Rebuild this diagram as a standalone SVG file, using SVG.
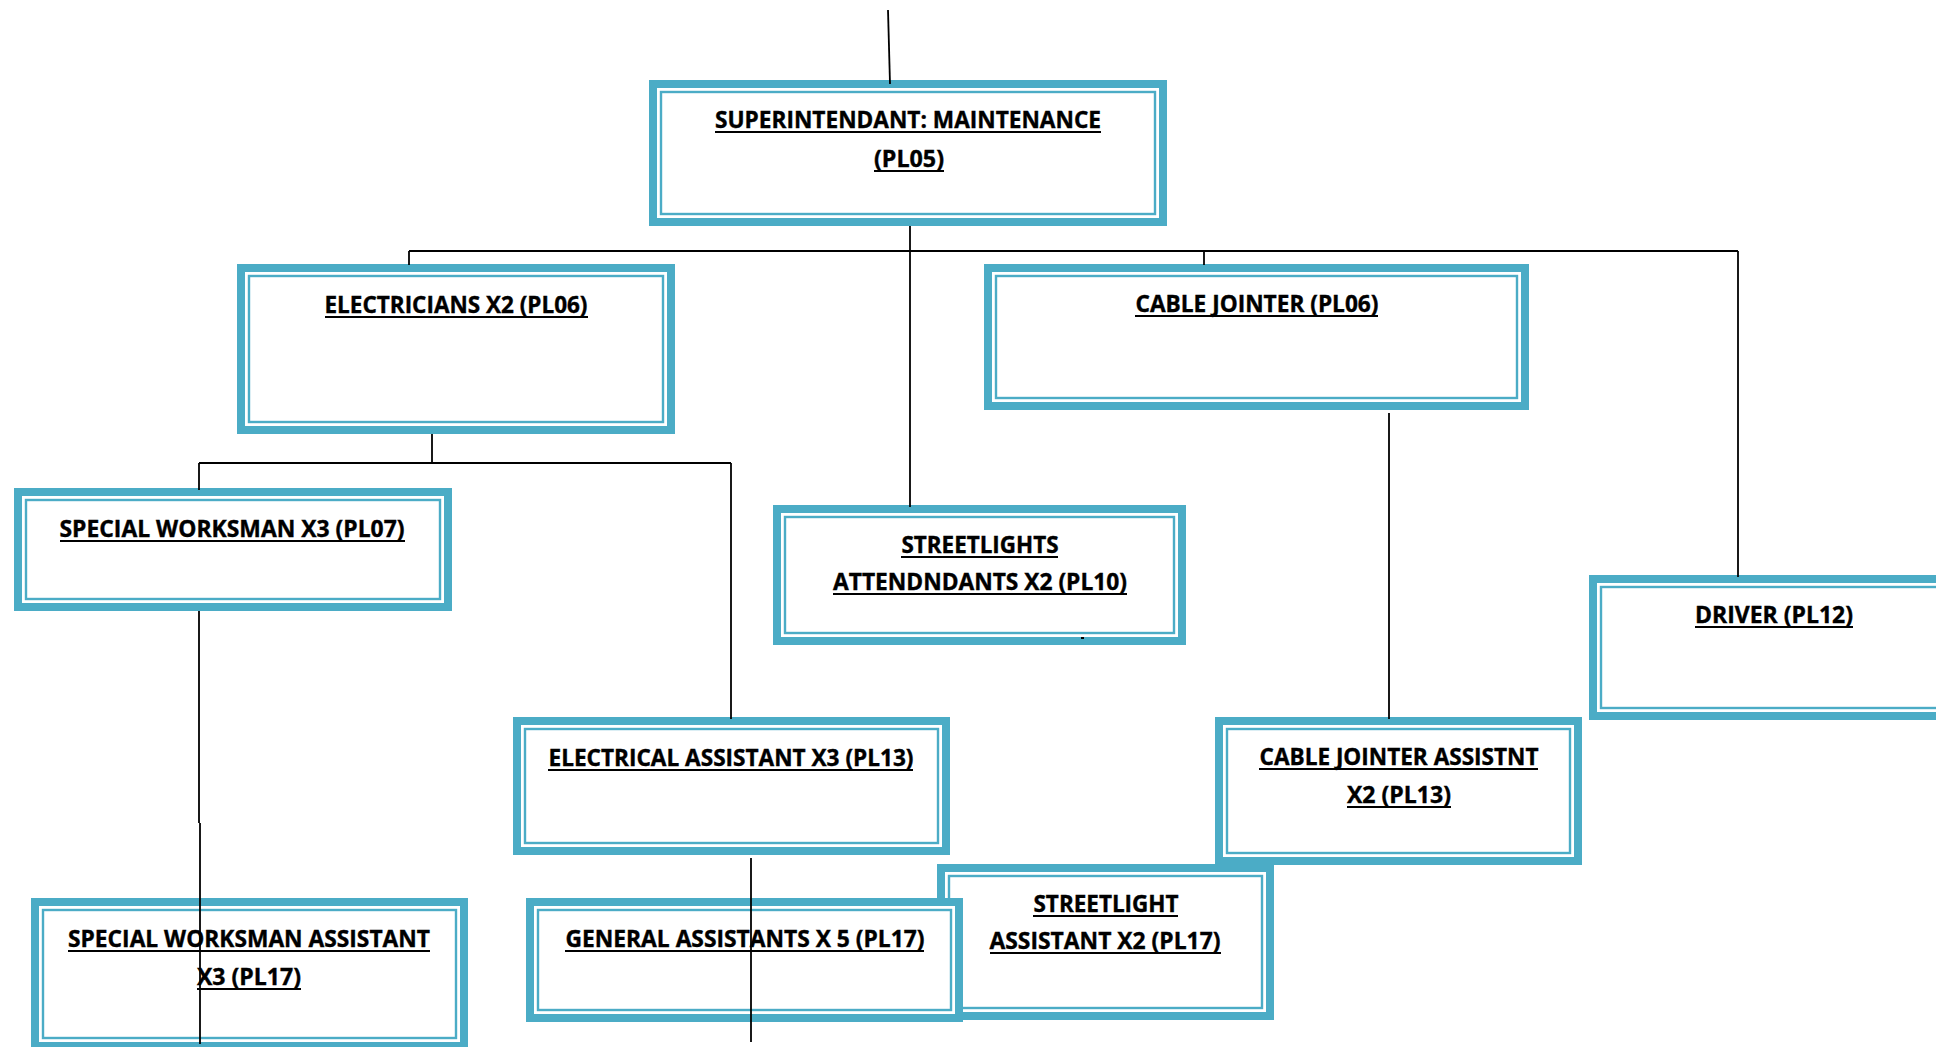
<svg xmlns="http://www.w3.org/2000/svg" width="1936" height="1047" viewBox="0 0 1936 1047">
  <style>
    .band { fill: #ffffff; stroke: #4bacc6; stroke-width: 8; }
    .inner { fill: none; stroke: #4bacc6; stroke-width: 2.4; }
    .lbl { font-family: "Open Sans", "Liberation Sans", sans-serif; font-weight: 700; font-size: 24px; fill: #000000; stroke: #000000; stroke-width: 0.4; text-anchor: middle; }
    .ul { stroke: #000000; stroke-width: 2.2; }
    .wire { stroke: #000000; stroke-width: 1.8; fill: none; }
  </style>
  <rect width="1936" height="1047" fill="#ffffff"/>

  <!-- Nodes: thick outer band, thin inner rule -->
  <g id="superintendant">
    <rect class="band" x="653" y="84" width="510" height="138"/>
    <rect class="inner" x="661" y="92" width="494" height="122"/>
    <text class="lbl" x="908" y="128" textLength="386" lengthAdjust="spacingAndGlyphs">SUPERINTENDANT: MAINTENANCE</text>
    <line class="ul" x1="715" y1="132" x2="1101" y2="132"/>
    <text class="lbl" x="909" y="167" textLength="70" lengthAdjust="spacingAndGlyphs">(PL05)</text>
    <line class="ul" x1="874" y1="171" x2="944" y2="171"/>
  </g>

  <g id="electricians">
    <rect class="band" x="241" y="268" width="430" height="162"/>
    <rect class="inner" x="249" y="276" width="414" height="146"/>
    <text class="lbl" x="456" y="313" textLength="263" lengthAdjust="spacingAndGlyphs">ELECTRICIANS X2 (PL06)</text>
    <line class="ul" x1="325" y1="317" x2="588" y2="317"/>
  </g>

  <g id="cable-jointer">
    <rect class="band" x="988" y="268" width="537" height="138"/>
    <rect class="inner" x="996" y="276" width="521" height="122"/>
    <text class="lbl" x="1257" y="312" textLength="243" lengthAdjust="spacingAndGlyphs">CABLE JOINTER (PL06)</text>
    <line class="ul" x1="1135" y1="316" x2="1378" y2="316"/>
  </g>

  <g id="special-workman">
    <rect class="band" x="18" y="492" width="430" height="115"/>
    <rect class="inner" x="26" y="500" width="414" height="99"/>
    <text class="lbl" x="232" y="537" textLength="345" lengthAdjust="spacingAndGlyphs">SPECIAL WORKSMAN X3 (PL07)</text>
    <line class="ul" x1="60" y1="541" x2="405" y2="541"/>
  </g>

  <g id="streetlights-attendants">
    <rect class="band" x="777" y="509" width="405" height="132"/>
    <rect class="inner" x="785" y="517" width="389" height="116"/>
    <text class="lbl" x="980" y="553" textLength="157" lengthAdjust="spacingAndGlyphs">STREETLIGHTS</text>
    <line class="ul" x1="901" y1="557" x2="1058" y2="557"/>
    <text class="lbl" x="980" y="590" textLength="294" lengthAdjust="spacingAndGlyphs">ATTENDNDANTS X2 (PL10)</text>
    <line class="ul" x1="833" y1="594" x2="1127" y2="594"/>
    <rect x="1081" y="637" width="3" height="2" fill="#000000"/>
  </g>

  <g id="driver">
    <rect class="band" x="1593" y="579" width="403" height="137"/>
    <rect class="inner" x="1601" y="587" width="387" height="121"/>
    <text class="lbl" x="1774" y="623" textLength="158" lengthAdjust="spacingAndGlyphs">DRIVER (PL12)</text>
    <line class="ul" x1="1695" y1="627" x2="1853" y2="627"/>
  </g>

  <g id="electrical-assistant">
    <rect class="band" x="517" y="721" width="429" height="130"/>
    <rect class="inner" x="525" y="729" width="413" height="114"/>
    <text class="lbl" x="731" y="766" textLength="365" lengthAdjust="spacingAndGlyphs">ELECTRICAL ASSISTANT X3 (PL13)</text>
    <line class="ul" x1="548" y1="770" x2="913" y2="770"/>
  </g>

  <g id="cable-jointer-assistant">
    <rect class="band" x="1219" y="721" width="359" height="140"/>
    <rect class="inner" x="1227" y="729" width="343" height="124"/>
    <text class="lbl" x="1399" y="765" textLength="279" lengthAdjust="spacingAndGlyphs">CABLE JOINTER ASSISTNT</text>
    <line class="ul" x1="1259" y1="769" x2="1538" y2="769"/>
    <text class="lbl" x="1399" y="803" textLength="104" lengthAdjust="spacingAndGlyphs">X2 (PL13)</text>
    <line class="ul" x1="1347" y1="807" x2="1451" y2="807"/>
  </g>

  <g id="streetlight-assistant">
    <rect class="band" x="941" y="868" width="329" height="148"/>
    <rect class="inner" x="949" y="876" width="313" height="132"/>
    <text class="lbl" x="1106" y="912" textLength="145" lengthAdjust="spacingAndGlyphs">STREETLIGHT</text>
    <line class="ul" x1="1033" y1="916" x2="1178" y2="916"/>
    <text class="lbl" x="1105" y="949" textLength="231" lengthAdjust="spacingAndGlyphs">ASSISTANT X2 (PL17)</text>
    <line class="ul" x1="990" y1="953" x2="1221" y2="953"/>
  </g>

  <g id="special-workman-assistant">
    <rect class="band" x="35" y="902" width="429" height="144"/>
    <rect class="inner" x="43" y="910" width="413" height="128"/>
    <text class="lbl" x="249" y="947" textLength="362" lengthAdjust="spacingAndGlyphs">SPECIAL WORKSMAN ASSISTANT</text>
    <line class="ul" x1="68" y1="951" x2="430" y2="951"/>
    <text class="lbl" x="249" y="985" textLength="104" lengthAdjust="spacingAndGlyphs">X3 (PL17)</text>
    <line class="ul" x1="197" y1="989" x2="301" y2="989"/>
  </g>

  <g id="general-assistants">
    <rect class="band" x="530" y="902" width="429" height="116"/>
    <rect class="inner" x="538" y="910" width="413" height="100"/>
    <text class="lbl" x="745" y="947" textLength="359" lengthAdjust="spacingAndGlyphs">GENERAL ASSISTANTS X 5 (PL17)</text>
    <line class="ul" x1="565" y1="951" x2="924" y2="951"/>
  </g>

  <!-- Reporting lines -->
  <g id="connectors" class="wire">
    <line x1="888" y1="10" x2="890" y2="84"/>
    <line x1="910" y1="226" x2="910" y2="251"/>
    <line x1="409" y1="251" x2="1738" y2="251"/>
    <line x1="409" y1="251" x2="409" y2="265"/>
    <line x1="1204" y1="251" x2="1204" y2="265"/>
    <line x1="1738" y1="251" x2="1738" y2="577"/>
    <line x1="910" y1="251" x2="910" y2="507"/>
    <line x1="432" y1="434" x2="432" y2="463"/>
    <line x1="199" y1="463" x2="731" y2="463"/>
    <line x1="199" y1="463" x2="199" y2="490"/>
    <line x1="731" y1="463" x2="731" y2="719"/>
    <line x1="199" y1="611" x2="199" y2="823"/>
    <line x1="200" y1="823" x2="200" y2="1044"/>
    <line x1="1389" y1="413" x2="1389" y2="719"/>
    <line x1="751" y1="858" x2="751" y2="1042"/>
  </g>
</svg>
